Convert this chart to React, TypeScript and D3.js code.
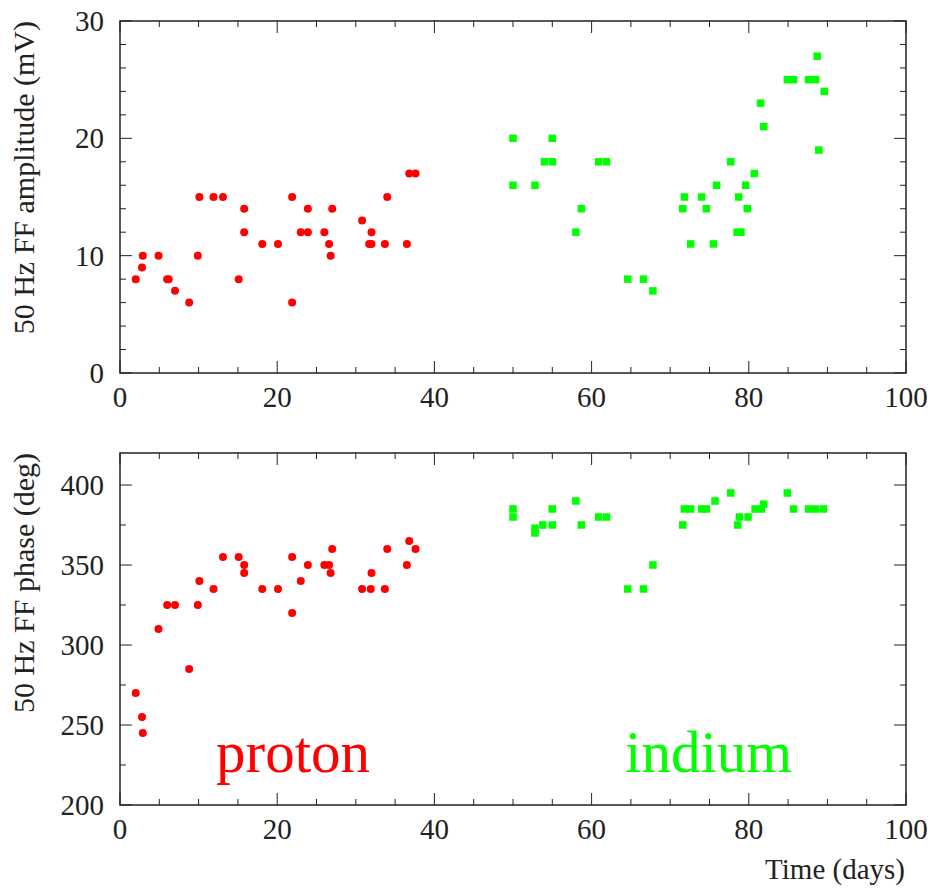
import React from "react";
import * as d3 from "d3";

// proton run (red) – amplitude panel
const protonAmpDays = [2, 2.8, 2.9, 4.9, 6, 6.2, 7, 8.8, 9.9, 10.1, 11.9, 13.1, 15.1, 15.8, 15.8, 18.1, 20.1, 21.9, 21.9, 23, 23.9, 23.9, 26, 26.6, 26.8, 27, 30.8, 32, 31.7, 32, 33.7, 34, 36.5, 36.8, 37.6];
const protonAmp = [8, 9, 10, 10, 8, 8, 7, 6, 10, 15, 15, 15, 8, 14, 12, 11, 11, 15, 6, 12, 14, 12, 12, 11, 10, 14, 13, 12, 11, 11, 11, 15, 11, 17, 17];

// proton run – phase panel
const protonPhaseDays = [2, 2.8, 2.9, 4.9, 6, 7, 8.8, 9.9, 10.1, 11.9, 13.1, 15.1, 15.8, 15.8, 18.1, 20.1, 21.9, 21.9, 23, 23.9, 26, 26.6, 26.8, 27, 30.8, 31.9, 32, 33.7, 34, 36.5, 36.8, 37.6];
const protonPhase = [270, 255, 245, 310, 325, 325, 285, 325, 340, 335, 355, 355, 350, 345, 335, 335, 355, 320, 340, 350, 350, 350, 345, 360, 335, 335, 345, 335, 360, 350, 365, 360];

// indium run (green) – amplitude panel
const indiumAmpDays = [50, 55, 54, 55, 50, 52.8, 58.7, 58, 60.9, 61.9, 64.6, 66.6, 67.8, 71.8, 71.6, 74, 74.6, 72.6, 75.5, 75.9, 77.7, 78.7, 78.5, 79, 79.6, 79.8, 80.7, 81.5, 81.9, 84.9, 85.7, 87.6, 88.5, 88.7, 89.6, 88.9];
const indiumAmp = [20, 20, 18, 18, 16, 16, 14, 12, 18, 18, 8, 8, 7, 15, 14, 15, 14, 11, 11, 16, 18, 15, 12, 12, 16, 14, 17, 23, 21, 25, 25, 25, 25, 27, 24, 19];

// indium run – phase panel
const indiumPhaseDays = [50, 50, 52.8, 52.8, 53.8, 55, 55, 58, 58.7, 60.9, 61.9, 64.6, 66.6, 67.8, 71.6, 71.8, 72.6, 74, 74.6, 75.7, 77.7, 78.6, 78.8, 79.9, 80.8, 81.6, 81.9, 84.9, 85.7, 87.6, 88.5, 89.5];
const indiumPhase = [385, 380, 373, 370, 375, 375, 385, 390, 375, 380, 380, 335, 335, 350, 375, 385, 385, 385, 385, 390, 395, 375, 380, 380, 385, 385, 388, 395, 385, 385, 385, 385];

const xTicks = [0, 20, 40, 60, 80, 100];
const ampTicks = [0, 10, 20, 30];
const phaseTicks = [200, 250, 300, 350, 400];

const FONT = "'Liberation Serif', 'DejaVu Serif', serif";
const RED = "#ff0000";
const GREEN = "#00ff00";
const INK = "#222";

const X0 = 120;
const X1 = 906;

type PanelProps = {
  top: number;
  bottom: number;
  yDomain: [number, number];
  yTicks: number[];
  yMinor: number;
  title: string;
  red: [number[], number[]];
  green: [number[], number[]];
};

const Panel = ({ top, bottom, yDomain, yTicks, yMinor, title, red, green }: PanelProps) => {
  const x = d3.scaleLinear().domain([0, 100]).range([X0, X1]);
  const y = d3.scaleLinear().domain(yDomain).range([bottom, top]);

  const xMinor = d3.range(0, 100.001, 5);
  const yMinorTicks = d3.range(yDomain[0], yDomain[1] + 0.001, yMinor);
  const isMajorX = (v: number) => xTicks.includes(v);
  const isMajorY = (v: number) => yTicks.includes(v);

  return (
    <g>
      {/* ticks on all four sides, pointing inwards */}
      {xMinor.map((v) => {
        const len = isMajorX(v) ? 12 : 6;
        return (
          <g key={"xt" + v} stroke={INK} strokeWidth={1}>
            <line x1={x(v)} x2={x(v)} y1={bottom} y2={bottom - len} />
            <line x1={x(v)} x2={x(v)} y1={top} y2={top + len} />
          </g>
        );
      })}
      {yMinorTicks.map((v) => {
        const len = isMajorY(v) ? 12 : 6;
        return (
          <g key={"yt" + v} stroke={INK} strokeWidth={1}>
            <line x1={X0} x2={X0 + len} y1={y(v)} y2={y(v)} />
            <line x1={X1} x2={X1 - len} y1={y(v)} y2={y(v)} />
          </g>
        );
      })}
      <rect x={X0} y={top} width={X1 - X0} height={bottom - top} fill="none" stroke={INK} strokeWidth={1.5} />

      {xTicks.map((v) => (
        <text key={"xl" + v} x={x(v)} y={bottom + 34} textAnchor="middle" fontFamily={FONT} fontSize={29} fill={INK}>
          {v}
        </text>
      ))}
      {yTicks.map((v) => (
        <text key={"yl" + v} x={104} y={y(v)} dy="0.35em" textAnchor="end" fontFamily={FONT} fontSize={29} fill={INK}>
          {v}
        </text>
      ))}
      <text
        transform={`translate(34 ${top}) rotate(-90)`}
        textAnchor="end"
        fontFamily={FONT}
        fontSize={30}
        fill={INK}
      >
        {title}
      </text>

      {red[0].map((d, i) => (
        <circle key={"r" + i} cx={x(d)} cy={y(red[1][i])} r={4} fill={RED} />
      ))}
      {green[0].map((d, i) => (
        <rect key={"g" + i} x={x(d) - 3.75} y={y(green[1][i]) - 3.75} width={7.5} height={7.5} fill={GREEN} />
      ))}
    </g>
  );
};

export default function App() {
  return (
    <svg
      width={932}
      height={888}
      style={{ position: "absolute", left: 0, top: 0, background: "#fff" }}
    >
      <Panel
        top={21}
        bottom={373}
        yDomain={[0, 30]}
        yTicks={ampTicks}
        yMinor={2}
        title="50 Hz FF amplitude (mV)"
        red={[protonAmpDays, protonAmp]}
        green={[indiumAmpDays, indiumAmp]}
      />
      <Panel
        top={453}
        bottom={805}
        yDomain={[200, 420]}
        yTicks={phaseTicks}
        yMinor={25}
        title="50 Hz FF phase (deg)"
        red={[protonPhaseDays, protonPhase]}
        green={[indiumPhaseDays, indiumPhase]}
      />
      <text x={216} y={772} fontFamily={FONT} fontSize={59} fill={RED}>
        proton
      </text>
      <text x={625} y={772} fontFamily={FONT} fontSize={59} fill={GREEN}>
        indium
      </text>
      <text x={905} y={879} textAnchor="end" fontFamily={FONT} fontSize={29} fill={INK}>
        Time (days)
      </text>
    </svg>
  );
}
